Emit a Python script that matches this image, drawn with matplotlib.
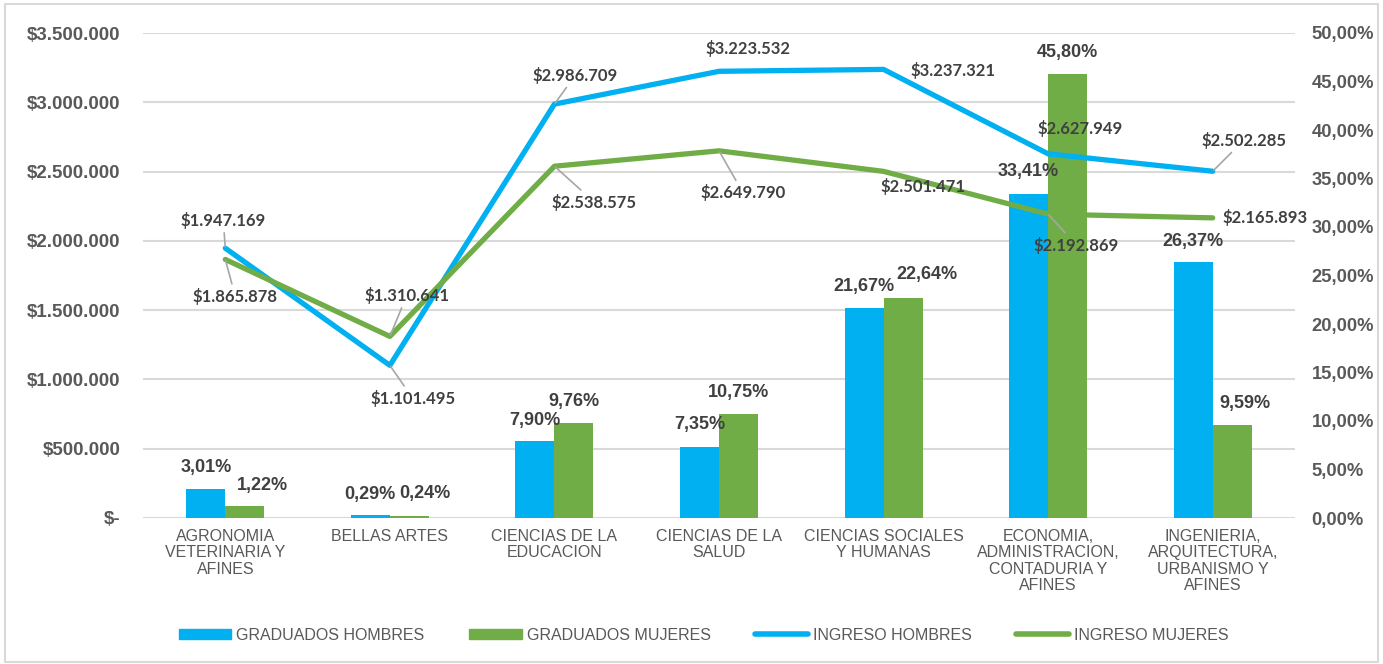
import matplotlib
matplotlib.use("Agg")
import matplotlib.pyplot as plt
from matplotlib.patches import Rectangle
from matplotlib.lines import Line2D

plt.rcParams['font.family'] = ['Liberation Sans', 'DejaVu Sans']

categorias = ["AGRONOMIA\nVETERINARIA Y\nAFINES", "BELLAS ARTES",
              "CIENCIAS DE LA\nEDUCACION", "CIENCIAS DE LA\nSALUD",
              "CIENCIAS SOCIALES\nY HUMANAS",
              "ECONOMIA,\nADMINISTRACION,\nCONTADURIA Y\nAFINES",
              "INGENIERIA,\nARQUITECTURA,\nURBANISMO Y\nAFINES"]
grad_hombres = [3.01, 0.29, 7.90, 7.35, 21.67, 33.41, 26.37]
grad_mujeres = [1.22, 0.24, 9.76, 10.75, 22.64, 45.80, 9.59]
ingreso_hombres = [1947169, 1101495, 2986709, 3223532, 3237321, 2627949, 2502285]
ingreso_mujeres = [1865878, 1310641, 2538575, 2649790, 2501471, 2192869, 2165893]

AZUL = '#00B0F0'
VERDE = '#70AD47'
GRIS = '#595959'
OSCURO = '#404040'

fig = plt.figure(figsize=(13.83, 6.64), dpi=100)
fig.patches.append(Rectangle((5 / 1383, 2 / 664), 1373 / 1383, 658 / 664,
                             transform=fig.transFigure, fill=False,
                             edgecolor='#D9D9D9', lw=1.5))

rect = [143 / 1383, 1 - 518 / 664, 1152 / 1383, 485 / 664]
ax = fig.add_axes(rect)            # eje $ con rejilla
ax2 = ax.twinx()                   # barras en %
axl = fig.add_axes(rect, sharex=ax, sharey=ax)  # lineas encima
axl.patch.set_visible(False)
axl.axis('off')

x = list(range(len(categorias)))
w = 0.237
ymax = 3500000

# rejilla y eje izquierdo
ax.set_ylim(0, ymax)
ax.set_xlim(-0.5, len(categorias) - 0.5)
yt = list(range(0, ymax + 1, 500000))
ax.set_yticks(yt)
ax.set_yticklabels(["$-"] + ["$" + f"{t:,}".replace(',', '.') for t in yt[1:]],
                   fontsize=13.5, fontweight='bold', color=GRIS)
ax.grid(axis='y', color='#D9D9D9', lw=1.5)
ax.set_axisbelow(True)
ax.set_xticks(x)
ax.set_xticklabels(categorias, fontsize=11.5, color=GRIS, linespacing=1.1)
ax.tick_params(axis='x', length=0, pad=8)
ax.tick_params(axis='y', length=0, pad=16)

# barras (eje derecho, %)
ax2.bar([i - w / 2 for i in x], grad_hombres, width=w, color=AZUL)
ax2.bar([i + w / 2 for i in x], grad_mujeres, width=w, color=VERDE)
ax2.set_ylim(0, 50)
pt = list(range(0, 55, 5))
ax2.set_yticks(pt)
ax2.set_yticklabels([f"{t},00%" for t in pt], fontsize=13.2, fontweight='bold', color=GRIS)
ax2.tick_params(axis='y', length=0, pad=12)

pct_off_h = [(0, 21), (0, 21), (0, 21), (0, 22), (0, 21), (0, 22), (0, 21)]
pct_off_m = [(18, 21), (16, 22), (0, 22), (0, 21), (24, 24), (0, 21), (13, 21)]
for i in x:
    ax2.annotate(f"{grad_hombres[i]:.2f}%".replace('.', ','), (i - w / 2, grad_hombres[i]),
                 xytext=pct_off_h[i], textcoords='offset pixels', ha='center', va='center',
                 fontsize=13, fontweight='bold', color=OSCURO)
    ax2.annotate(f"{grad_mujeres[i]:.2f}%".replace('.', ','), (i + w / 2, grad_mujeres[i]),
                 xytext=pct_off_m[i], textcoords='offset pixels', ha='center', va='center',
                 fontsize=13, fontweight='bold', color=OSCURO)

# lineas (eje izquierdo, $)
axl.plot(x, ingreso_hombres, color=AZUL, lw=3.8, solid_capstyle='round', solid_joinstyle='round')
axl.plot(x, ingreso_mujeres, color=VERDE, lw=3.8, solid_capstyle='round', solid_joinstyle='round')


def money(v):
    return "$" + f"{v:,}".replace(',', '.')


off_h = [(-2, 28, True), (23, -33, True), (21, 29, True), (29, 23, False),
         (69, -1, False), (32, 25, False), (31, 31, True)]
off_m = [(10, -37, True), (17, 41, True), (40, -36, True), (24, -42, True),
         (39, -15, False), (28, -31, True), (52, 0, False)]
for vals, offs in ((ingreso_hombres, off_h), (ingreso_mujeres, off_m)):
    for i in x:
        dx, dy, lead = offs[i]
        ap = dict(arrowstyle='-', color='#A6A6A6', lw=1.2, shrinkA=1, shrinkB=1) if lead else None
        axl.annotate(money(vals[i]), (i, vals[i]), xytext=(dx, dy), textcoords='offset pixels',
                     ha='center', va='center', fontsize=12, fontweight='bold',
                     family=['Lato', 'DejaVu Sans'], color=OSCURO, arrowprops=ap, zorder=5)

for a in (ax, ax2):
    for s in a.spines.values():
        s.set_visible(False)

handles = [Rectangle((0, 0), 1, 1, color=AZUL), Rectangle((0, 0), 1, 1, color=VERDE),
           Line2D([], [], color=AZUL, lw=4, solid_capstyle='round'),
           Line2D([], [], color=VERDE, lw=4, solid_capstyle='round')]
labels = ["GRADUADOS HOMBRES", "GRADUADOS MUJERES", "INGRESO HOMBRES", "INGRESO MUJERES"]
leg = fig.legend(handles, labels, loc='center', bbox_to_anchor=(0.5 + 12 / 1383, 1 - 635 / 664),
                 ncol=4, frameon=False, fontsize=11.5, handlelength=3.3, handleheight=0.55,
                 handletextpad=0.3, columnspacing=2.8)
for t in leg.get_texts():
    t.set_color(GRIS)

fig.savefig("out.png", dpi=100)
